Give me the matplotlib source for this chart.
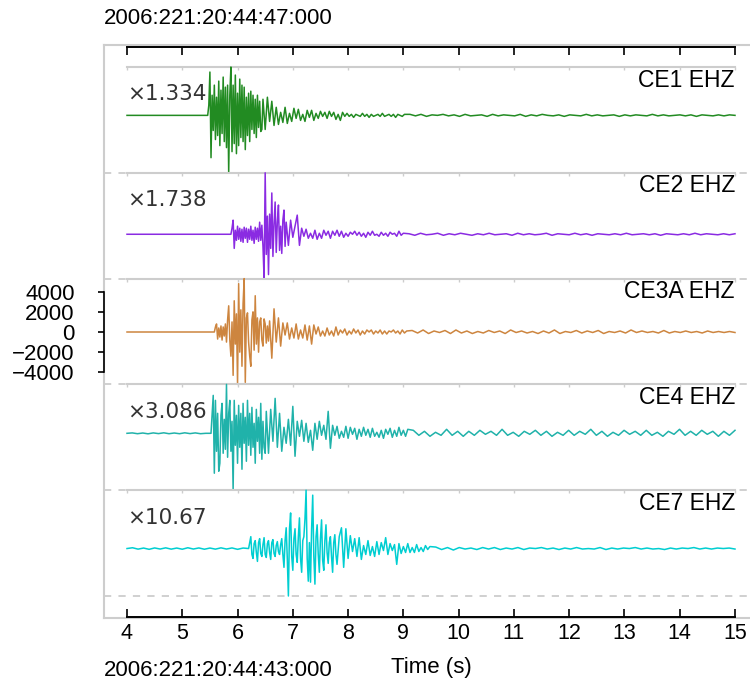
import numpy as np
import matplotlib
matplotlib.use('Agg')
import matplotlib.pyplot as plt
import matplotlib.transforms as mtransforms
from matplotlib.lines import Line2D

plt.rcParams['font.family'] = ['Liberation Sans', 'DejaVu Sans']

# ---- data (counts, as plotted after the gain) ----
stations = ['CE1 EHZ', 'CE2 EHZ', 'CE3A EHZ', 'CE4 EHZ', 'CE7 EHZ']
gains = [1.334, 1.738, None, 3.086, 10.67]
onsets = [5.46, 5.88, 5.58, 5.52, 6.20]
colors = ['#228B22', '#8A2BE2', '#CD853F', '#20B2AA', '#00CED1']
time_ticks = list(range(4, 16))
amp_ticks = [-4000, -2000, 0, 2000, 4000]
t_start, t_end = 4.0, 15.0
dt_strong = 0.02   # sampling of the strong-motion part
dt_coda = 0.04     # sampling of the coda

ce1_pre = [0]
ce1_strong = [0, 1000, 4300, -4200, 2000, -1500, 3000, -2400, 1800, -2000, 3400, -3000,
              2500, -1800, 3800, -2600, 2800, -3200, 3000, -5700, 2000, 4800, -3600, 3000,
              -2800, 4000, -3800, 2200, -3000, 3600, -2200, 3000, -2600, 2800, -3400, 1800,
              -2000, 2200, -2600, 2400, -1400, 2000, -1800, 1600, -2200, 2000, -1200, 1400,
              -1600, -1400]
ce1_coda = [1600, -1400, 1800, -600, 1400, -1000, 800, -900, 300, -700, 800, -800, 200,
            -600, 700, -300, 600, -500, 100, -600, 500, -200, 500, -500, 200, -300, 400,
            -100, 300, -300, 400, -100, 300, -400, 100, -500, 300, -100, 200, -100, 100,
            -200, 100, 0, -100, 200, -100, 100, -200, 100, -100, 0, 100, -100, 200, -100, 0,
            100, -100, 100, -200, 100, 0, -100, 100]
ce1_tail = [100, -50, 100, -100, 50, 0, 100, -50, 50, -100, 100, -50, 0, 50, -100, 100,
            -50, 50, 0, -50, 100, -100, 50, -50, 100, 0, -50, 50, -100, 50, 0, -50, 100,
            -50, 50, -50, 0, 50, -100, 50, -50, 50, 0, -50, 100, -50, 50, -50, 0, 50, -50,
            50, -100, 50, 0, -50, 50, -50, 50, 0]

ce2_pre = [0]
ce2_strong = [0, 600, 1400, -1400, 400, -600, 800, -500, 600, -700, 500, -800, 700, -400,
              600, -800, 500, -500, 800, -600, 400, -900, 700, -500, 600, -700, 1200, -600,
              900, -1200, -4400, 6100, -2000, 1800, -4000, 2000, -1400, 4100, -2200, 1000,
              3200, -1800, 1200, 2900, -1600, 800, -1900, 1400, 2400, -1200]
ce2_coda = [1200, -1100, 1400, -300, 800, 1900, -1100, 600, -200, 500, -400, 100, -400,
            400, -500, 100, -400, 400, -100, 300, -400, 300, -100, 400, -200, 300, -300,
            100, -200, 200, 0, 300, -100, 200, -200, 100, -300, 200, -100, 300, -100, 0,
            -200, 200, -100, 100, -200, 200, 0, 100, -200, 300, -100, 100]
ce2_tail = [50, -100, 100, -50, 0, 100, -100, 50, -50, 100, 0, -100, 50, -50, 100, -50, 0,
            50, -100, 100, -50, 50, -50, 0, 100, -100, 50, 0, -50, 100, -50, 50, -100, 50,
            0, -50, 50, -50, 100, -50, 0, 50, -50, 50, -100, 50, 0, -50, 50, -50, 100, -50,
            50, 0, -50, 50, -50, 50]

ce3a_pre = [0]
ce3a_strong = [0, 500, 800, -700, 400, -500, 600, -800, 500, -400, 800, -1000, 1200, 2600,
               -800, -2400, 1000, -4300, 3100, -1200, 1800, -5200, 4800, -2000, 2200, -3400,
               2800, 5300, -5000, 1400, 1900, -1000, -2400, -3400, 1200, 2000, -1800, 3600,
               -1200, 1400, -2000, 1000, 1400, -800, -1400, 1300, 800, -1100, 600, -900]
ce3a_coda = [1100, -2600, 2300, -1000, 1400, -1400, 900, -300, 900, -700, 400, -600, 800,
             -700, 200, -600, 700, -800, 600, -1200, 700, -200, 500, -400, 100, -400, 400,
             -300, 100, -400, 500, -300, 200, -100, 300, -300, 100, -200, 300, -100, 200,
             -300, 100, -200, 200, 0, 200, -200, 100, -100, 200, -200, 100, -200, 100, 0,
             200, -100, 100, -200, 200, -100, 100]
ce3a_tail = [150, -100, 200, -150, 100, -50, 150, -150, 200, -100, 100, -150, 50, -100,
             150, -50, 100, -150, 200, -50, 100, -100, 50, -150, 100, -100, 200, -150, 50,
             -50, 150, -100, 100, -50, 150, -150, 50, -50, 100, -100, 200, -50, 100, -50,
             50, -100, 150, -100, 50, -50, 100, -50, 50, -100, 100, -50, 50, -50, 50, -50]

ce4_pre = [0, 40, -40, 30, -50, 40, -30, 50, -40, 30, -40, 50, -30, 40, -40, 0]
ce4_strong = [0, 2000, 3800, -4000, 3300, -1800, 2000, -3800, -3000, 1800, 3000, -2000,
              1400, -1600, 4900, -2400, 2000, 3300, -1800, 1200, -5700, 3300, -1200, 1800,
              -3000, 2800, -1400, 2000, -3600, 3000, -1000, 1600, -2800, 3300, -1200, 2000,
              -2200, 2600, -1400, 1000, -3000, 2400, -800, 1600, -2000, 3000, -2600, 1200,
              -1400, -2000]
ce4_coda = [2200, -2000, 2400, -800, 3500, -1400, 2000, -1800, 600, -1000, 1400, -1200,
            2700, -2300, 1200, -300, 1300, -800, 1000, -900, 300, -1700, 1000, -600, 1200,
            -200, 800, -600, 2200, -1500, 800, -200, 700, -500, 200, -400, 700, -500, 600,
            -100, 500, -600, 400, -300, 600, -200, 400, -400, 500, -300, 100, -400, 300,
            -500, 400, -100, 500, -400, 300, -300, 600, -200, 300, -300, 400]
ce4_tail = [300, -200, 200, -300, 100, -200, 400, -200, 200, -300, 200, -200, 300, -100,
            200, -200, 400, -200, 100, -300, 200, -100, 300, -200, 200, -300, 100, -200,
            300, -200, 200, -100, 400, -200, 200, -300, 100, -200, 300, -100, 200, -200,
            300, -200, 100, -300, 200, -100, 400, -200, 200, -200, 300, -100, 200, -300,
            200, -200, 300]

ce7_pre = [0, 80, -60, 50, -80, 60, -50, 70, -60, 50, -70, 80, -50, 60, -70, 50, -60, 70,
           -50, 60, -80, 50]
ce7_strong = [0, 600, 1200, -600, -1000, 500, 800, -400, -1300, 600, 1000, -500, -800, 400,
              1100, -600, -900, 500, 800, -400, -1100, 600, 900, -500, -800, 300, 700, -300,
              -600, 400, 1000, -600, -1900, 800, 2100, -1000, -4800, 2000, 3600, -800, -2200,
              1000, 2000, -600, -1400, 1200, 3100, -1000, -2400, 800, 1200, 3000, 5900,
              -1000, -3300, 600, -3400, 2000, 5400, -800, -3600, 1200, 2400, -600, -2400,
              1000, 2900, -1200, -2200, 800, 2400, -400, -1500, 600, 1200, -800, -2400, 600,
              1400, -600]
ce7_coda = [-1600, 1200, 2100, -1900, 2000, -1000, 1300, -300, 1000, -800, 1100, -1100,
            300, -600, 800, -700, 200, -800, 700, -600, 600, -200, 1100, -600, 500, -200,
            400, -1600, 500, -500, 200, -400, 500, -400, 100, -400, 400, -300, 100, -300,
            300, -100, 200]
ce7_tail = [150, -100, 100, -150, 100, -50, 50, -100, 100, -50, 100, -100, 50, -50, 100,
            -100, 50, 0, 100, -50, 50, -100, 50, -50, 100, -50, 0, -50, 100, -100, 50, -50,
            50, 0, 100, -50, 50, -50, 0, -100, 50, -50, 50, 0, 100, -50, 50, -50, 50, 0,
            50, -50]

pres = [ce1_pre, ce2_pre, ce3a_pre, ce4_pre, ce7_pre]
strongs = [ce1_strong, ce2_strong, ce3a_strong, ce4_strong, ce7_strong]
codas = [ce1_coda, ce2_coda, ce3a_coda, ce4_coda, ce7_coda]
tails = [ce1_tail, ce2_tail, ce3a_tail, ce4_tail, ce7_tail]

# ---- layout (pixels of the 750x686 picture) ----
W_PX, H_PX = 750, 686
left_px = 104
t4_px, t15_px = 127, 735
px_per_s = (t15_px - t4_px) / 11.0
xmin = 4 - (t4_px - left_px) / px_per_s
xmax = 4 + (W_PX - t4_px) / px_per_s
panel_top, panel_h = 67, 105.8
grey = '#cdcdcd'


def fy(py):
    return 1 - py / H_PX


fig = plt.figure(figsize=(7.5, 6.86), dpi=100)
ax_left = left_px / W_PX
ax_w = 1 - ax_left

# time axis (top and bottom black lines)
axt = fig.add_axes([ax_left, fy(617), ax_w, (617 - 46.7) / H_PX])
axt.set_xlim(xmin, xmax)
axt.set_ylim(0, 1)
axt.patch.set_visible(False)
for s in ['left', 'right']:
    axt.spines[s].set_visible(False)
for s in ['top', 'bottom']:
    axt.spines[s].set_bounds(4, 15)
    axt.spines[s].set_linewidth(1.4)
axt.set_xticks(time_ticks)
axt.set_yticks([])
axt.tick_params(axis='x', direction='in', length=6, width=1.2, top=True,
                labelsize=15.5, pad=4)

for i in range(5):
    y = np.concatenate([pres[i], strongs[i], codas[i], tails[i]]).astype(float)
    t_pre = np.linspace(t_start, onsets[i], len(pres[i]) + 1)[:-1]
    t_strong = onsets[i] + dt_strong * np.arange(len(strongs[i]))
    t_coda = onsets[i] + dt_strong * len(strongs[i]) + dt_coda * np.arange(len(codas[i]))
    t_tail = np.linspace(t_coda[-1], t_end, len(tails[i]) + 1)[1:]
    t = np.concatenate([t_pre, t_strong, t_coda, t_tail])

    bottom_px = panel_top + (i + 1) * panel_h
    ax = fig.add_axes([ax_left, fy(bottom_px), ax_w, panel_h / H_PX])
    ax.patch.set_visible(False)
    ax.set_xlim(xmin, xmax)
    lo, hi = y.min(), y.max()
    ax.set_ylim(lo, hi)
    for s in ['left', 'right', 'bottom']:
        ax.spines[s].set_visible(False)
    ax.spines['top'].set_color(grey)
    ax.spines['top'].set_linewidth(1.5)
    ax.spines['top'].set_bounds(4, 15)
    ax.set_xticks(time_ticks)
    ax.tick_params(axis='x', top=True, bottom=False, labelbottom=False,
                   direction='in', length=2.5, width=1, color=grey)

    if i > 0:
        ax.axhline(hi, color=grey, lw=1.3, ls=(0, (4, 4)), clip_on=False, zorder=1)
    if i == 4:
        ax.axhline(lo, color=grey, lw=1.3, ls=(0, (4, 4)), clip_on=False, zorder=1)

    ax.plot(t, y, color=colors[i], lw=1.1, clip_on=False, zorder=3)

    trans = mtransforms.blended_transform_factory(ax.transData, ax.transAxes)
    ax.text(15.0, 1 - 19.7 / panel_h, stations[i], transform=trans,
            ha='right', va='baseline', fontsize=16.5)
    if gains[i] is not None:
        ax.text(4.0, 1 - 33.5 / panel_h, '×{:.4g}'.format(gains[i]), transform=trans,
                ha='left', va='baseline', fontsize=15.5, family='DejaVu Sans',
                color='#333333')
        ax.set_yticks([])
    else:
        ax.spines['left'].set_visible(True)
        ax.spines['left'].set_bounds(amp_ticks[0], amp_ticks[-1])
        ax.spines['left'].set_linewidth(1.2)
        ax.set_yticks(amp_ticks)
        ax.tick_params(axis='y', direction='out', length=4, width=1.2,
                       labelsize=16, pad=17)

# light grey frame around the plot
frame_kw = dict(transform=fig.transFigure, color=grey, lw=1.5, zorder=-1)
fig.add_artist(Line2D([ax_left, ax_left], [fy(45), fy(618)], **frame_kw))
fig.add_artist(Line2D([ax_left, 1], [fy(45), fy(45)], **frame_kw))
fig.add_artist(Line2D([ax_left, 1], [fy(618), fy(618)], **frame_kw))

fig.text(ax_left, fy(18), '2006:221:20:44:47:000', fontsize=16, va='center')
fig.text(ax_left, fy(671), '2006:221:20:44:43:000', fontsize=16, va='center')
fig.text(431 / W_PX, fy(667), 'Time (s)', fontsize=16, va='center', ha='center')

fig.savefig('out.png', dpi=100)
